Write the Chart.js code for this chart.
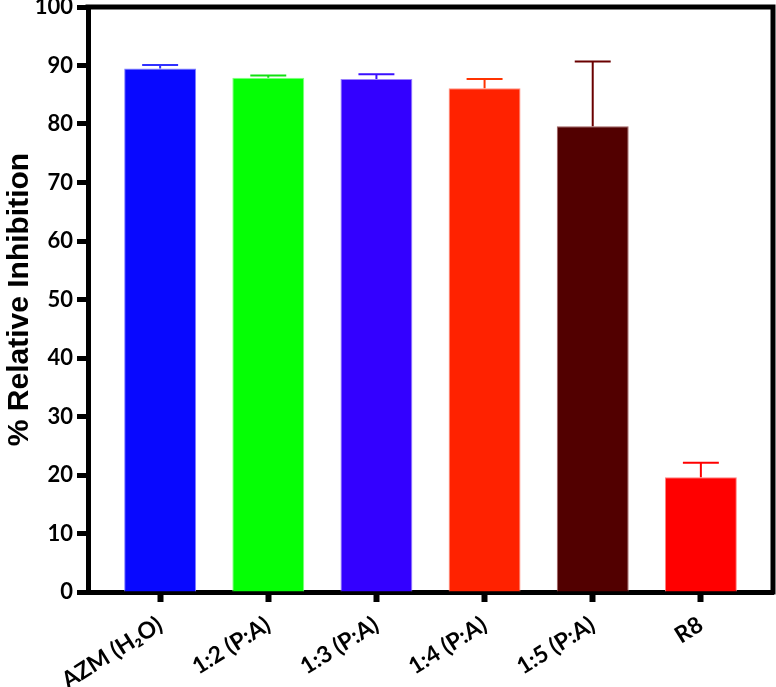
<!DOCTYPE html>
<html>
<head>
<meta charset="utf-8">
<script src="https://cdn.jsdelivr.net/npm/chart.js@4.4.0/dist/chart.umd.min.js"></script>
<style>
html,body{margin:0;padding:0;background:#fff;}
#wrap{width:776px;height:687px;position:relative;}
</style>
</head>
<body>
<div id="wrap"><canvas id="c" width="776" height="687"></canvas></div>
<script>
const categories = ['AZM (H\u2082O)', '1:2 (P:A)', '1:3 (P:A)', '1:4 (P:A)', '1:5 (P:A)', 'R8'];
const means = [89.5, 87.9, 87.7, 86.1, 79.6, 19.6];
const errors = [0.6, 0.4, 0.8, 1.6, 11.1, 2.5];
const barColors = ['#0808ff', '#05ff05', '#3300ff', '#ff2200', '#520000', '#ff0000'];
const barEdgeColors = ['#8080ff', '#80ff80', '#9980ff', '#ff9080', '#a06060', '#ff8080'];
const errColors = ['#3030ff', '#10e010', '#3a10ff', '#ff3300', '#6a0000', '#ff0000'];
const yTicks = [0, 10, 20, 30, 40, 50, 60, 70, 80, 90, 100];

const FONT = 'Lato, "Open Sans", "DejaVu Sans", sans-serif';

const errorBarPlugin = {
  id: 'errorBars',
  afterDatasetsDraw(chart) {
    const ctx = chart.ctx;
    const meta = chart.getDatasetMeta(0);
    const ys = chart.scales.y;
    ctx.save();
    meta.data.forEach((bar, i) => {
      const x = bar.x;
      const yTop = ys.getPixelForValue(means[i] + errors[i]);
      const yBar = ys.getPixelForValue(means[i]);
      const half = bar.width / 4;
      ctx.strokeStyle = errColors[i];
      ctx.lineWidth = 2;
      ctx.beginPath();
      ctx.moveTo(x, yBar);
      ctx.lineTo(x, yTop);
      ctx.moveTo(x - half, yTop);
      ctx.lineTo(x + half, yTop);
      ctx.stroke();
    });
    ctx.restore();
  }
};

const framePlugin = {
  id: 'frame',
  afterDraw(chart) {
    const a = chart.chartArea;
    const ctx = chart.ctx;
    ctx.save();
    ctx.strokeStyle = '#000';
    ctx.lineWidth = 5;
    ctx.beginPath();
    ctx.moveTo(a.left - 2.5, a.top);
    ctx.lineTo(a.right, a.top);
    ctx.lineTo(a.right, a.bottom + 2.5);
    ctx.stroke();
    ctx.restore();
  }
};

new Chart(document.getElementById('c'), {
  type: 'bar',
  data: {
    datasets: [{
      data: means.map((v, i) => ({ x: i, y: v })),
      backgroundColor: barColors,
      borderColor: barEdgeColors,
      borderWidth: 1,
      borderSkipped: 'bottom',
      barPercentage: 0.665,
      categoryPercentage: 1.0
    }]
  },
  options: {
    responsive: false,
    animation: false,
    devicePixelRatio: 1,
    layout: { padding: { left: 0, right: 3, top: 7, bottom: 0 } },
    plugins: { legend: { display: false }, tooltip: { enabled: false } },
    scales: {
      x: {
        type: 'linear',
        offset: false,
        min: -0.667,
        max: 5.667,
        afterBuildTicks(axis) { axis.ticks = categories.map((c, i) => ({ value: i })); },
        afterFit(axis) { axis.height = 95; axis.paddingLeft = 0; axis.paddingRight = 0; },
        ticks: {
          autoSkip: false,
          minRotation: 32,
          maxRotation: 32,
          padding: 9,
          color: '#000',
          font: { family: FONT, size: 23, weight: 'bold' },
          callback: (v) => categories[v]
        },
        grid: { offset: false, drawOnChartArea: false, drawTicks: true, tickLength: 10, tickWidth: 6, tickColor: '#000' },
        border: { display: true, color: '#000', width: 5 }
      },
      y: {
        min: 0,
        max: 100,
        afterBuildTicks(axis) { axis.ticks = yTicks.map(v => ({ value: v })); },
        afterFit(axis) { axis.width = 88; axis.paddingTop = 0; axis.paddingBottom = 0; },
        ticks: {
          padding: 4,
          color: '#000',
          font: { family: FONT, size: 22, weight: 'bold' }
        },
        grid: { drawOnChartArea: false, drawTicks: true, tickLength: 11, tickWidth: 5, tickColor: '#000' },
        border: { display: true, color: '#000', width: 5 },
        title: {
          display: true,
          text: '% Relative Inhibition',
          color: '#000',
          padding: { top: 2, bottom: 0 },
          font: { family: '"Liberation Sans", Arial, sans-serif', size: 30, weight: 'bold' }
        }
      }
    }
  },
  plugins: [errorBarPlugin, framePlugin]
});
</script>
</body>
</html>
